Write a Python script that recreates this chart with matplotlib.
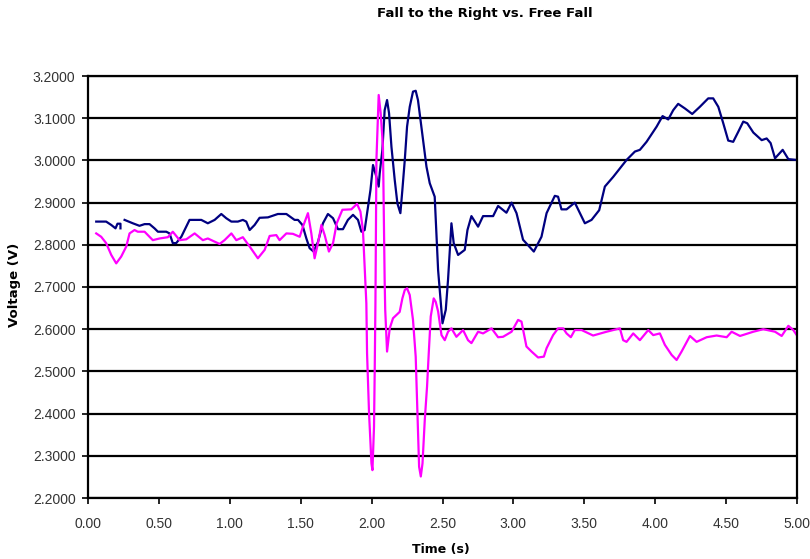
import numpy as np
import matplotlib
matplotlib.use('Agg')
import matplotlib.pyplot as plt
from matplotlib.ticker import FormatStrFormatter, MultipleLocator

# Fall to the Right (navy), gap near t=0.24 s
right_t = [0.058, 0.128, 0.164, 0.194, 0.208, 0.229, 0.229, np.nan,
           0.258, 0.316, 0.363, 0.399, 0.434, 0.469, 0.493, 0.552, 0.575, 0.598,
           0.622, 0.658, 0.716, 0.799, 0.845, 0.893, 0.940, 0.975, 1.011, 1.057,
           1.092, 1.116, 1.140, 1.175, 1.210, 1.269, 1.339, 1.399, 1.457, 1.481,
           1.512, 1.540, 1.563, 1.591, 1.622, 1.657, 1.692, 1.728, 1.763, 1.798,
           1.833, 1.869, 1.904, 1.928, 1.951, 1.975, 1.992, 2.010, 2.034, 2.050,
           2.057, 2.076, 2.092, 2.109, 2.123, 2.140, 2.163, 2.182, 2.203, 2.217,
           2.234, 2.250, 2.269, 2.292, 2.311, 2.327, 2.351, 2.387, 2.410, 2.445,
           2.469, 2.500, 2.523, 2.539, 2.563, 2.579, 2.610, 2.657, 2.676, 2.704,
           2.751, 2.786, 2.857, 2.892, 2.951, 2.987, 3.022, 3.068, 3.144, 3.198,
           3.234, 3.292, 3.315, 3.339, 3.375, 3.433, 3.504, 3.551, 3.605, 3.645,
           3.704, 3.798, 3.857, 3.892, 3.939, 4.010, 4.052, 4.092, 4.127, 4.162,
           4.210, 4.261, 4.315, 4.374, 4.409, 4.445, 4.480, 4.515, 4.550, 4.586,
           4.621, 4.649, 4.692, 4.751, 4.786, 4.814, 4.845, 4.899, 4.939, 4.998]
right_v = [2.855, 2.855, 2.847, 2.839, 2.850, 2.850, 2.839, np.nan,
           2.859, 2.851, 2.845, 2.849, 2.849, 2.839, 2.831, 2.831, 2.827, 2.804,
           2.804, 2.819, 2.859, 2.859, 2.851, 2.859, 2.873, 2.863, 2.855, 2.855,
           2.859, 2.855, 2.835, 2.847, 2.864, 2.865, 2.873, 2.873, 2.859, 2.859,
           2.847, 2.815, 2.792, 2.784, 2.807, 2.851, 2.873, 2.863, 2.837, 2.837,
           2.859, 2.871, 2.859, 2.831, 2.835, 2.890, 2.930, 2.989, 2.961, 2.938,
           2.969, 3.025, 3.119, 3.143, 3.112, 3.032, 2.954, 2.898, 2.875, 2.930,
           3.001, 3.080, 3.127, 3.163, 3.165, 3.143, 3.080, 2.985, 2.946, 2.914,
           2.740, 2.614, 2.646, 2.717, 2.851, 2.804, 2.776, 2.788, 2.835, 2.868,
           2.843, 2.868, 2.868, 2.892, 2.876, 2.900, 2.875, 2.812, 2.784, 2.819,
           2.875, 2.916, 2.914, 2.884, 2.884, 2.900, 2.851, 2.859, 2.882, 2.938,
           2.961, 3.001, 3.021, 3.025, 3.044, 3.080, 3.105, 3.097, 3.119, 3.134,
           3.123, 3.110, 3.127, 3.147, 3.147, 3.127, 3.088, 3.047, 3.044, 3.068,
           3.092, 3.088, 3.066, 3.048, 3.052, 3.041, 3.005, 3.025, 3.003, 3.001]

# Free Fall (magenta)
free_t = [0.058, 0.093, 0.128, 0.164, 0.199, 0.234, 0.270, 0.293, 0.328, 0.351,
          0.399, 0.457, 0.505, 0.563, 0.598, 0.646, 0.693, 0.752, 0.810, 0.845,
          0.928, 0.963, 1.011, 1.046, 1.092, 1.140, 1.198, 1.246, 1.281, 1.328,
          1.351, 1.399, 1.445, 1.493, 1.516, 1.551, 1.575, 1.598, 1.622, 1.646,
          1.669, 1.699, 1.728, 1.754, 1.794, 1.857, 1.897, 1.921, 1.939, 1.951,
          1.963, 1.968, 1.982, 1.999, 2.006, 2.017, 2.022, 2.027, 2.034, 2.050,
          2.064, 2.080, 2.092, 2.096, 2.109, 2.128, 2.151, 2.198, 2.217, 2.234,
          2.250, 2.269, 2.292, 2.311, 2.323, 2.335, 2.347, 2.359, 2.375, 2.391,
          2.403, 2.417, 2.438, 2.452, 2.469, 2.493, 2.516, 2.539, 2.563, 2.598,
          2.645, 2.680, 2.704, 2.751, 2.786, 2.846, 2.892, 2.927, 2.987, 3.033,
          3.057, 3.092, 3.128, 3.174, 3.215, 3.234, 3.280, 3.315, 3.351, 3.375,
          3.405, 3.433, 3.481, 3.562, 3.657, 3.751, 3.774, 3.798, 3.845, 3.892,
          3.951, 3.986, 4.033, 4.068, 4.116, 4.151, 4.186, 4.245, 4.292, 4.363,
          4.433, 4.504, 4.539, 4.598, 4.692, 4.762, 4.845, 4.892, 4.939, 4.974,
          4.998]
free_v = [2.827, 2.819, 2.804, 2.776, 2.756, 2.772, 2.796, 2.827, 2.835, 2.831,
          2.831, 2.811, 2.815, 2.818, 2.831, 2.811, 2.813, 2.827, 2.811, 2.815,
          2.802, 2.811, 2.827, 2.811, 2.818, 2.796, 2.768, 2.788, 2.821, 2.823,
          2.811, 2.827, 2.826, 2.819, 2.843, 2.875, 2.827, 2.768, 2.804, 2.847,
          2.823, 2.784, 2.804, 2.851, 2.883, 2.884, 2.897, 2.879, 2.835, 2.748,
          2.661, 2.543, 2.401, 2.282, 2.266, 2.369, 2.503, 2.661, 3.001, 3.155,
          3.112, 3.033, 2.717, 2.646, 2.547, 2.602, 2.626, 2.641, 2.673, 2.693,
          2.697, 2.681, 2.622, 2.535, 2.401, 2.274, 2.251, 2.282, 2.385, 2.464,
          2.543, 2.630, 2.673, 2.665, 2.642, 2.586, 2.574, 2.594, 2.602, 2.582,
          2.598, 2.574, 2.567, 2.594, 2.590, 2.602, 2.581, 2.582, 2.594, 2.622,
          2.618, 2.559, 2.547, 2.533, 2.535, 2.555, 2.586, 2.602, 2.602, 2.590,
          2.581, 2.598, 2.598, 2.585, 2.594, 2.602, 2.574, 2.570, 2.590, 2.574,
          2.598, 2.586, 2.590, 2.563, 2.539, 2.527, 2.547, 2.584, 2.570, 2.581,
          2.585, 2.581, 2.594, 2.584, 2.594, 2.600, 2.594, 2.584, 2.608, 2.598,
          2.586]

plt.rcParams['font.family'] = ['Liberation Sans', 'DejaVu Sans']

fig = plt.figure(figsize=(8.1, 5.59), dpi=100)
ax = fig.add_axes([88 / 810, 1 - 498 / 559, 709 / 810, 422 / 559])

ax.plot(right_t, right_v, color='#000080', lw=1.6)
ax.plot(free_t, free_v, color='#ff00ff', lw=1.6)

ax.set_xlim(0, 5)
ax.set_ylim(2.2, 3.2)
ax.xaxis.set_major_locator(MultipleLocator(0.5))
ax.yaxis.set_major_locator(MultipleLocator(0.1))
ax.xaxis.set_major_formatter(FormatStrFormatter('%.2f'))
ax.yaxis.set_major_formatter(FormatStrFormatter('%.4f'))
ax.grid(axis='y', color='black', lw=1.6)
ax.set_axisbelow(True)
for s in ax.spines.values():
    s.set_color('black')
    s.set_linewidth(1.6)
ax.tick_params(direction='out', length=4, width=1.2, labelsize=10,
               labelcolor='#333333', pad=5)
ax.tick_params(axis='x', pad=10)

lab = dict(family='DejaVu Sans', fontweight='bold', ha='center', va='center')
fig.text(485 / 810, 1 - 13 / 559, 'Fall to the Right vs. Free Fall',
         fontsize=9.5, **lab)
fig.text(441 / 810, 1 - 550 / 559, 'Time (s)', fontsize=9, **lab)
fig.text(15 / 810, 1 - 285 / 559, 'Voltage (V)', rotation=90, fontsize=9.5, **lab)

fig.savefig('out.png', dpi=100)
